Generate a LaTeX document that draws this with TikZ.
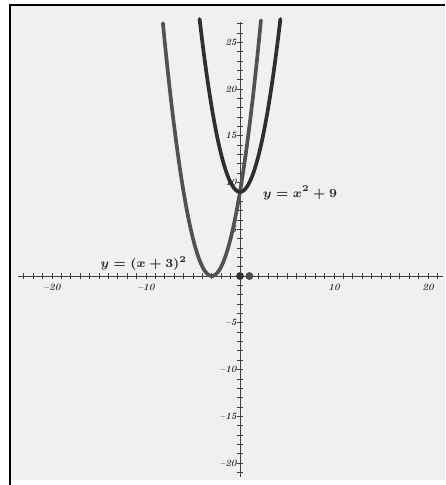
\documentclass[tikz,border=0pt]{standalone}
\usepackage{amsmath}
\usetikzlibrary{positioning}

\begin{document}
\begin{tikzpicture}[
    x=0.188cm, y=0.187cm,
    axis/.style={draw=black!75, line width=0.5pt},
    tick/.style={draw=black!75, line width=0.4pt},
    num/.style={font=\fontsize{5.5}{6}\selectfont\bfseries\itshape,
                text=black!80, inner sep=0.6pt},
    curve/.style={line width=2.1pt, line cap=round},
    eqn/.style={font=\scriptsize\boldmath, text=black!85, inner sep=0pt},
    dot/.style={circle, fill=black!80, inner sep=0pt, minimum size=4.5pt}
  ]
  % page and frame
  \useasboundingbox (-25.53,-22.35) rectangle (21.81,29.52);
  \fill[white] (-25.53,-22.35) rectangle (21.81,29.52);
  \fill[black!6] (-24.47,-21.8) rectangle (21.81,28.98);
  \draw[line width=0.8pt] (-24.47,-22.35) -- (-24.47,28.98) -- (21.81,28.98);

  % axes
  \draw[axis] (-23.6,0) -- (21.6,0);
  \draw[axis] (0,-21.5) -- (0,27.2);

  % ticks
  \foreach \i in {-23,...,21} {
    \draw[tick] (\i,-0.35) -- (\i,0.35);
  }
  \foreach \j in {-21,...,27} {
    \draw[tick] (-0.35,\j) -- (0.35,\j);
  }

  % tick labels
  \foreach \i/\t in {-20/\textendash20, -10/\textendash10, 10/10, 20/20} {
    \node[num, below] at (\i,-0.7) {\t};
  }
  \foreach \j/\t in {-20/\textendash20, -15/\textendash15, -10/\textendash10,
                     -5/\textendash5, 5/5, 10/10, 15/15, 20/20, 25/25} {
    \node[num, left] at (-0.2,\j) {\t};
  }

  % parabolas
  \draw[curve, black!68] plot[domain=-8.2:2.23, samples=80] (\x, {(\x+3)^2});
  \draw[curve, black!82] plot[domain=-4.3:4.3, samples=80] (\x, {\x*\x+9});

  % points on the x axis
  \node[dot] (origin) at (0,0) {};
  \node[dot, fill=black!70] (one) at (1,0) {};

  % equations
  \node[eqn, anchor=west] (eqA) at (2.4,8.9) {$y=x^{2}+9$};
  \node[eqn, anchor=east] (eqB) at (-5.6,1.3) {$y=(x+3)^{2}$};
\end{tikzpicture}
\end{document}
